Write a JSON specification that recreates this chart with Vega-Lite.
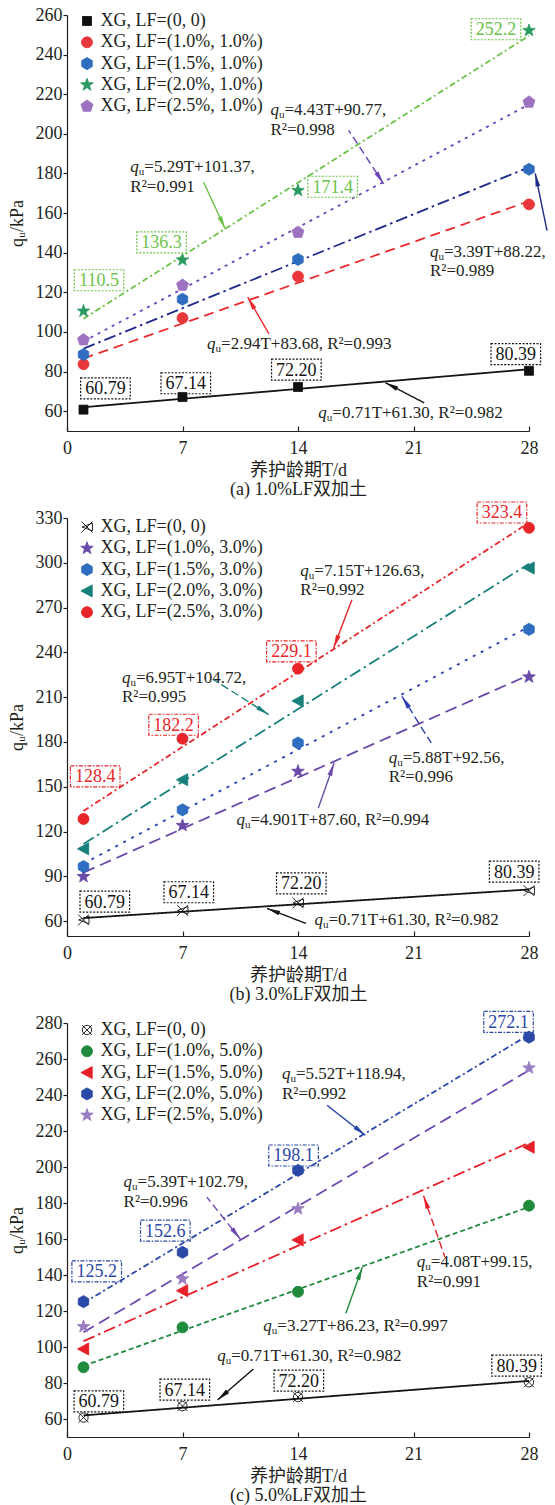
{
  "$schema": "https://vega.github.io/schema/vega-lite/v6.json",
  "background": "white",
  "padding": {"left": 8, "top": 6, "right": 2, "bottom": 2},
  "bounds": "flush",
  "spacing": 87,
  "config": {
    "view": {"stroke": null},
    "font": "Liberation Serif",
    "axis": {
      "grid": false, "domainColor": "#231f20", "domainWidth": 1.2, "tickColor": "#231f20", "tickWidth": 1.2,
      "labelColor": "#231f20", "labelFont": "Liberation Serif", "labelFontSize": 18, "labelFlush": false, "labelOverlap": false,
      "titleColor": "#231f20", "titleFont": "Liberation Serif, Noto Sans CJK SC", "titleFontSize": 18, "titleFontWeight": "normal"
    },
    "axisY": {"tickSize": 4, "labelPadding": 1, "titlePadding": 9},
    "axisX": {"tickSize": -5, "labelPadding": 13, "titlePadding": 4, "titleLineHeight": 19},
    "legend": {
      "labelFont": "Liberation Serif", "labelFontSize": 18, "labelColor": "#231f20", "labelLimit": 300,
      "symbolSize": 120, "rowPadding": 3.3, "labelOffset": 4.5, "padding": 0, "symbolStrokeWidth": 0.9
    },
    "text": {"font": "Liberation Serif", "fontSize": 17, "color": "#231f20"}
  },
  "datasets": {
    "aPts": [
      {"s": "XG, LF=(0, 0)", "T": 1, "q": 60.79}, {"s": "XG, LF=(0, 0)", "T": 7, "q": 67.14}, {"s": "XG, LF=(0, 0)", "T": 14, "q": 72.2}, {"s": "XG, LF=(0, 0)", "T": 28, "q": 80.39},
      {"s": "XG, LF=(1.0%, 1.0%)", "T": 1, "q": 83.7}, {"s": "XG, LF=(1.0%, 1.0%)", "T": 7, "q": 107.0}, {"s": "XG, LF=(1.0%, 1.0%)", "T": 14, "q": 128.0}, {"s": "XG, LF=(1.0%, 1.0%)", "T": 28, "q": 164.4},
      {"s": "XG, LF=(1.5%, 1.0%)", "T": 1, "q": 88.6}, {"s": "XG, LF=(1.5%, 1.0%)", "T": 7, "q": 116.5}, {"s": "XG, LF=(1.5%, 1.0%)", "T": 14, "q": 136.6}, {"s": "XG, LF=(1.5%, 1.0%)", "T": 28, "q": 182.1},
      {"s": "XG, LF=(2.0%, 1.0%)", "T": 1, "q": 110.5}, {"s": "XG, LF=(2.0%, 1.0%)", "T": 7, "q": 136.3}, {"s": "XG, LF=(2.0%, 1.0%)", "T": 14, "q": 171.4}, {"s": "XG, LF=(2.0%, 1.0%)", "T": 28, "q": 252.2},
      {"s": "XG, LF=(2.5%, 1.0%)", "T": 1, "q": 96.0}, {"s": "XG, LF=(2.5%, 1.0%)", "T": 7, "q": 123.6}, {"s": "XG, LF=(2.5%, 1.0%)", "T": 14, "q": 150.3}, {"s": "XG, LF=(2.5%, 1.0%)", "T": 28, "q": 216.0}
    ],
    "aFit": [
      {"s": "XG, LF=(0, 0)", "T": 1, "q": 62.01}, {"s": "XG, LF=(0, 0)", "T": 28, "q": 81.18},
      {"s": "XG, LF=(1.0%, 1.0%)", "T": 1, "q": 86.62}, {"s": "XG, LF=(1.0%, 1.0%)", "T": 28, "q": 166.0},
      {"s": "XG, LF=(1.5%, 1.0%)", "T": 1, "q": 91.61}, {"s": "XG, LF=(1.5%, 1.0%)", "T": 28, "q": 183.14},
      {"s": "XG, LF=(2.0%, 1.0%)", "T": 1, "q": 106.66}, {"s": "XG, LF=(2.0%, 1.0%)", "T": 28, "q": 249.49},
      {"s": "XG, LF=(2.5%, 1.0%)", "T": 1, "q": 95.2}, {"s": "XG, LF=(2.5%, 1.0%)", "T": 28, "q": 214.81}
    ],
    "aBox": [
      {"s": "XG, LF=(0, 0)", "T": 2.33, "q": 71.5, "label": "60.79"},
      {"s": "XG, LF=(0, 0)", "T": 7.2, "q": 74.1, "label": "67.14"},
      {"s": "XG, LF=(0, 0)", "T": 13.9, "q": 81.0, "label": "72.20"},
      {"s": "XG, LF=(0, 0)", "T": 27.2, "q": 88.8, "label": "80.39"},
      {"s": "XG, LF=(2.0%, 1.0%)", "T": 1.94, "q": 126.1, "label": "110.5"},
      {"s": "XG, LF=(2.0%, 1.0%)", "T": 5.73, "q": 145.2, "label": "136.3"},
      {"s": "XG, LF=(2.0%, 1.0%)", "T": 16.1, "q": 173.3, "label": "171.4"},
      {"s": "XG, LF=(2.0%, 1.0%)", "T": 26.0, "q": 252.8, "label": "252.2"}
    ],
    "aEq1": [
      {"T": 3.84, "q": 183.2, "text": "=5.29T+101.37,"},
      {"T": 12.33, "q": 212.0, "text": "=4.43T+90.77,"},
      {"T": 22.0, "q": 140.5, "text": "=3.39T+88.22,"},
      {"T": 8.49, "q": 93.9, "text": "=2.94T+83.68, R²=0.993"},
      {"T": 15.23, "q": 59.2, "text": "=0.71T+61.30, R²=0.982"}
    ],
    "aEq2": [
      {"T": 3.84, "q": 173.2, "text": "R²=0.991"},
      {"T": 12.33, "q": 202.0, "text": "R²=0.998"},
      {"T": 22.0, "q": 130.6, "text": "R²=0.989"}
    ],
    "aArr": [
      {"s": "XG, LF=(2.0%, 1.0%)", "T0": 8.28, "q0": 175.6, "T": 9.59, "q": 152.0},
      {"s": "XG, LF=(2.5%, 1.0%)", "T0": 17.07, "q0": 201.8, "T": 19.19, "q": 174.8},
      {"s": "XG, LF=(1.5%, 1.0%)", "T0": 29.09, "q0": 151.2, "T": 28.38, "q": 180.0},
      {"s": "XG, LF=(1.0%, 1.0%)", "T0": 12.24, "q0": 99.0, "T": 10.95, "q": 117.6},
      {"s": "XG, LF=(0, 0)", "T0": 21.65, "q0": 64.2, "T": 19.3, "q": 74.4}
    ],
    "bPts": [
      {"s": "XG, LF=(0, 0)", "T": 1, "q": 60.79}, {"s": "XG, LF=(0, 0)", "T": 7, "q": 67.14}, {"s": "XG, LF=(0, 0)", "T": 14, "q": 72.2}, {"s": "XG, LF=(0, 0)", "T": 28, "q": 80.39},
      {"s": "XG, LF=(1.0%, 3.0%)", "T": 1, "q": 89.8}, {"s": "XG, LF=(1.0%, 3.0%)", "T": 7, "q": 124.0}, {"s": "XG, LF=(1.0%, 3.0%)", "T": 14, "q": 160.3}, {"s": "XG, LF=(1.0%, 3.0%)", "T": 28, "q": 223.5},
      {"s": "XG, LF=(1.5%, 3.0%)", "T": 1, "q": 96.5}, {"s": "XG, LF=(1.5%, 3.0%)", "T": 7, "q": 134.5}, {"s": "XG, LF=(1.5%, 3.0%)", "T": 14, "q": 179.3}, {"s": "XG, LF=(1.5%, 3.0%)", "T": 28, "q": 255.4},
      {"s": "XG, LF=(2.0%, 3.0%)", "T": 1, "q": 108.4}, {"s": "XG, LF=(2.0%, 3.0%)", "T": 7, "q": 154.7}, {"s": "XG, LF=(2.0%, 3.0%)", "T": 14, "q": 207.5}, {"s": "XG, LF=(2.0%, 3.0%)", "T": 28, "q": 296.5},
      {"s": "XG, LF=(2.5%, 3.0%)", "T": 1, "q": 128.4}, {"s": "XG, LF=(2.5%, 3.0%)", "T": 7, "q": 182.2}, {"s": "XG, LF=(2.5%, 3.0%)", "T": 14, "q": 229.1}, {"s": "XG, LF=(2.5%, 3.0%)", "T": 28, "q": 323.4}
    ],
    "bFit": [
      {"s": "XG, LF=(0, 0)", "T": 1, "q": 62.01}, {"s": "XG, LF=(0, 0)", "T": 28, "q": 81.18},
      {"s": "XG, LF=(1.0%, 3.0%)", "T": 1, "q": 92.5}, {"s": "XG, LF=(1.0%, 3.0%)", "T": 28, "q": 224.83},
      {"s": "XG, LF=(1.5%, 3.0%)", "T": 1, "q": 98.44}, {"s": "XG, LF=(1.5%, 3.0%)", "T": 28, "q": 257.2},
      {"s": "XG, LF=(2.0%, 3.0%)", "T": 1, "q": 111.67}, {"s": "XG, LF=(2.0%, 3.0%)", "T": 28, "q": 299.32},
      {"s": "XG, LF=(2.5%, 3.0%)", "T": 1, "q": 133.78}, {"s": "XG, LF=(2.5%, 3.0%)", "T": 28, "q": 326.83}
    ],
    "bBox": [
      {"s": "XG, LF=(0, 0)", "T": 2.29, "q": 73.0, "label": "60.79"},
      {"s": "XG, LF=(0, 0)", "T": 7.38, "q": 79.3, "label": "67.14"},
      {"s": "XG, LF=(0, 0)", "T": 14.2, "q": 85.3, "label": "72.20"},
      {"s": "XG, LF=(0, 0)", "T": 27.1, "q": 93.1, "label": "80.39"},
      {"s": "XG, LF=(2.5%, 3.0%)", "T": 1.71, "q": 156.9, "label": "128.4"},
      {"s": "XG, LF=(2.5%, 3.0%)", "T": 6.46, "q": 191.5, "label": "182.2"},
      {"s": "XG, LF=(2.5%, 3.0%)", "T": 13.6, "q": 240.7, "label": "229.1"},
      {"s": "XG, LF=(2.5%, 3.0%)", "T": 26.36, "q": 333.7, "label": "323.4"}
    ],
    "bEq1": [
      {"T": 14.14, "q": 294.3, "text": "=7.15T+126.63,"},
      {"T": 3.33, "q": 222.5, "text": "=6.95T+104.72,"},
      {"T": 19.5, "q": 169.5, "text": "=5.88T+92.56,"},
      {"T": 10.27, "q": 127.4, "text": "=4.901T+87.60, R²=0.994"},
      {"T": 15.0, "q": 60.7, "text": "=0.71T+61.30, R²=0.982"}
    ],
    "bEq2": [
      {"T": 14.14, "q": 281.6, "text": "R²=0.992"},
      {"T": 3.33, "q": 209.8, "text": "R²=0.995"},
      {"T": 19.5, "q": 156.8, "text": "R²=0.996"}
    ],
    "bArr": [
      {"s": "XG, LF=(2.5%, 3.0%)", "T0": 17.27, "q0": 275.3, "T": 16.16, "q": 243.0},
      {"s": "XG, LF=(2.0%, 3.0%)", "T0": 8.88, "q0": 221.8, "T": 12.22, "q": 198.3},
      {"s": "XG, LF=(1.5%, 3.0%)", "T0": 22.07, "q0": 179.3, "T": 20.3, "q": 210.6},
      {"s": "XG, LF=(1.0%, 3.0%)", "T0": 15.23, "q0": 135.7, "T": 16.19, "q": 165.9},
      {"s": "XG, LF=(0, 0)", "T0": 14.48, "q0": 58.4, "T": 12.13, "q": 68.5}
    ],
    "cPts": [
      {"s": "XG, LF=(0, 0)", "T": 1, "q": 60.79}, {"s": "XG, LF=(0, 0)", "T": 7, "q": 67.14}, {"s": "XG, LF=(0, 0)", "T": 14, "q": 72.2}, {"s": "XG, LF=(0, 0)", "T": 28, "q": 80.39},
      {"s": "XG, LF=(1.0%, 5.0%)", "T": 1, "q": 88.7}, {"s": "XG, LF=(1.0%, 5.0%)", "T": 7, "q": 110.9}, {"s": "XG, LF=(1.0%, 5.0%)", "T": 14, "q": 130.7}, {"s": "XG, LF=(1.0%, 5.0%)", "T": 28, "q": 178.5},
      {"s": "XG, LF=(1.5%, 5.0%)", "T": 1, "q": 98.9}, {"s": "XG, LF=(1.5%, 5.0%)", "T": 7, "q": 131.3}, {"s": "XG, LF=(1.5%, 5.0%)", "T": 14, "q": 159.5}, {"s": "XG, LF=(1.5%, 5.0%)", "T": 28, "q": 211.0},
      {"s": "XG, LF=(2.0%, 5.0%)", "T": 1, "q": 125.2}, {"s": "XG, LF=(2.0%, 5.0%)", "T": 7, "q": 152.6}, {"s": "XG, LF=(2.0%, 5.0%)", "T": 14, "q": 198.1}, {"s": "XG, LF=(2.0%, 5.0%)", "T": 28, "q": 272.1},
      {"s": "XG, LF=(2.5%, 5.0%)", "T": 1, "q": 111.3}, {"s": "XG, LF=(2.5%, 5.0%)", "T": 7, "q": 137.8}, {"s": "XG, LF=(2.5%, 5.0%)", "T": 14, "q": 176.8}, {"s": "XG, LF=(2.5%, 5.0%)", "T": 28, "q": 255.0}
    ],
    "cFit": [
      {"s": "XG, LF=(0, 0)", "T": 1, "q": 62.01}, {"s": "XG, LF=(0, 0)", "T": 28, "q": 81.18},
      {"s": "XG, LF=(1.0%, 5.0%)", "T": 1, "q": 89.5}, {"s": "XG, LF=(1.0%, 5.0%)", "T": 28, "q": 177.79},
      {"s": "XG, LF=(1.5%, 5.0%)", "T": 1, "q": 103.23}, {"s": "XG, LF=(1.5%, 5.0%)", "T": 28, "q": 213.39},
      {"s": "XG, LF=(2.0%, 5.0%)", "T": 1, "q": 124.46}, {"s": "XG, LF=(2.0%, 5.0%)", "T": 28, "q": 273.5},
      {"s": "XG, LF=(2.5%, 5.0%)", "T": 1, "q": 108.18}, {"s": "XG, LF=(2.5%, 5.0%)", "T": 28, "q": 253.71}
    ],
    "cBox": [
      {"s": "XG, LF=(0, 0)", "T": 1.93, "q": 69.8, "label": "60.79"},
      {"s": "XG, LF=(0, 0)", "T": 7.14, "q": 76.3, "label": "67.14"},
      {"s": "XG, LF=(0, 0)", "T": 14.05, "q": 81.3, "label": "72.20"},
      {"s": "XG, LF=(0, 0)", "T": 27.25, "q": 89.6, "label": "80.39"},
      {"s": "XG, LF=(2.0%, 5.0%)", "T": 1.8, "q": 142.0, "label": "125.2"},
      {"s": "XG, LF=(2.0%, 5.0%)", "T": 5.96, "q": 164.6, "label": "152.6"},
      {"s": "XG, LF=(2.0%, 5.0%)", "T": 13.73, "q": 206.4, "label": "198.1"},
      {"s": "XG, LF=(2.0%, 5.0%)", "T": 26.76, "q": 280.6, "label": "272.1"}
    ],
    "cEq1": [
      {"T": 13.03, "q": 251.8, "text": "=5.52T+118.94,"},
      {"T": 3.43, "q": 191.5, "text": "=5.39T+102.79,"},
      {"T": 21.2, "q": 147.0, "text": "=4.08T+99.15,"},
      {"T": 11.9, "q": 111.9, "text": "=3.27T+86.23, R²=0.997"},
      {"T": 9.1, "q": 95.2, "text": "=0.71T+61.30, R²=0.982"}
    ],
    "cEq2": [
      {"T": 13.03, "q": 240.7, "text": "R²=0.992"},
      {"T": 3.43, "q": 180.4, "text": "R²=0.996"},
      {"T": 21.2, "q": 135.9, "text": "R²=0.991"}
    ],
    "cArr": [
      {"s": "XG, LF=(2.0%, 5.0%)", "T0": 15.76, "q0": 234.3, "T": 18.08, "q": 217.6},
      {"s": "XG, LF=(2.5%, 5.0%)", "T0": 8.48, "q0": 183.2, "T": 10.5, "q": 160.0},
      {"s": "XG, LF=(1.5%, 5.0%)", "T0": 22.9, "q0": 150.0, "T": 21.61, "q": 184.0},
      {"s": "XG, LF=(1.0%, 5.0%)", "T0": 16.9, "q0": 118.7, "T": 17.9, "q": 144.3},
      {"s": "XG, LF=(0, 0)", "T0": 11.3, "q0": 87.8, "T": 9.13, "q": 70.6}
    ]
  },
  "vconcat": [
    {
      "width": 462,
      "height": 416,
      "resolve": {"scale": {"strokeDash": "independent"}},
      "encoding": {
        "x": {"field": "T", "type": "quantitative", "scale": {"domain": [0, 28], "nice": false, "zero": false}, "axis": {"values": [0, 7, 14, 21, 28], "title": ["养护龄期T/d", "(a) 1.0%LF双加土"]}},
        "y": {"field": "q", "type": "quantitative", "scale": {"domain": [50, 260], "nice": false, "zero": false}, "axis": {"values": [60, 80, 100, 120, 140, 160, 180, 200, 220, 240, 260], "title": "qᵤ/kPa"}}
      },
      "layer": [
        {
          "data": {"name": "aFit"},
          "mark": {"type": "line", "strokeWidth": 1.8},
          "encoding": {
            "color": {"field": "s", "type": "nominal", "legend": null, "scale": {"range": ["#151515", "#ec2a2e", "#1f2a8a", "#6cc24a", "#6a45b8"]}},
            "strokeDash": {"field": "s", "type": "nominal", "legend": null, "scale": {"range": [[1, 0], [10, 6], [12, 4, 2.5, 4], [6, 3, 2, 3], [3, 5]]}}
          }
        },
        {
          "data": {"name": "aPts"},
          "mark": {"type": "point", "filled": true, "size": 120, "strokeWidth": 0.8, "opacity": 1},
          "encoding": {
            "fill": {"field": "s", "type": "nominal", "legend": {"title": null, "orient": "none", "legendX": 11, "legendY": -3}, "scale": {"domain": ["XG, LF=(0, 0)", "XG, LF=(1.0%, 1.0%)", "XG, LF=(1.5%, 1.0%)", "XG, LF=(2.0%, 1.0%)", "XG, LF=(2.5%, 1.0%)"], "range": ["#111111", "#e8383b", "#2e6dbf", "#2a9a60", "#9d72c0"]}},
            "stroke": {"field": "s", "type": "nominal", "legend": {"title": null, "orient": "none", "legendX": 11, "legendY": -3}, "scale": {"domain": ["XG, LF=(0, 0)", "XG, LF=(1.0%, 1.0%)", "XG, LF=(1.5%, 1.0%)", "XG, LF=(2.0%, 1.0%)", "XG, LF=(2.5%, 1.0%)"], "range": ["#111111", "#e8383b", "#2e6dbf", "#2a9a60", "#9d72c0"]}},
            "shape": {"field": "s", "type": "nominal", "legend": {"title": null, "orient": "none", "legendX": 11, "legendY": -3}, "scale": {"domain": ["XG, LF=(0, 0)", "XG, LF=(1.0%, 1.0%)", "XG, LF=(1.5%, 1.0%)", "XG, LF=(2.0%, 1.0%)", "XG, LF=(2.5%, 1.0%)"], "range": ["M-0.82,-0.82H0.82V0.82H-0.82Z", "M1,0A1,1,0,1,1,-1,0A1,1,0,1,1,1,0Z", "M0,-1.1L0.953,-0.55L0.953,0.55L0,1.1L-0.953,0.55L-0.953,-0.55Z", "M0,-1.2L0.282,-0.388L1.141,-0.371L0.456,0.148L0.705,0.971L0,0.48L-0.705,0.971L-0.456,0.148L-1.141,-0.371L-0.282,-0.388Z", "M0,-1.15L1.094,-0.355L0.676,0.93L-0.676,0.93L-1.094,-0.355Z"]}}
          }
        },
        {
          "data": {"name": "aBox"},
          "mark": {"type": "point", "shape": "M-2.48,-1.05H2.48V1.05H-2.48Z", "size": 400, "filled": false, "strokeWidth": 1.2, "opacity": 1},
          "encoding": {
            "color": {"field": "s", "type": "nominal", "legend": null, "scale": {"range": ["#151515", "#ec2a2e", "#1f2a8a", "#6cc24a", "#6a45b8"]}},
            "strokeDash": {"field": "s", "type": "nominal", "legend": null, "scale": {"range": [[2, 1.5], [2, 1.5]]}}
          }
        },
        {
          "data": {"name": "aBox"},
          "mark": {"type": "text", "fontSize": 18, "baseline": "middle", "dy": 1},
          "encoding": {
            "text": {"field": "label"},
            "color": {"field": "s", "type": "nominal", "legend": null, "scale": {"range": ["#151515", "#ec2a2e", "#1f2a8a", "#6cc24a", "#6a45b8"]}}
          }
        },
        {"data": {"name": "aEq1"}, "mark": {"type": "text", "text": "q", "fontStyle": "italic", "align": "left", "baseline": "middle"}},
        {"data": {"name": "aEq1"}, "mark": {"type": "text", "text": "u", "fontSize": 11, "align": "left", "baseline": "middle", "dx": 8.5, "dy": 5}},
        {"data": {"name": "aEq1"}, "mark": {"type": "text", "align": "left", "baseline": "middle", "dx": 14}, "encoding": {"text": {"field": "text"}}},
        {"data": {"name": "aEq2"}, "mark": {"type": "text", "align": "left", "baseline": "middle"}, "encoding": {"text": {"field": "text"}}},
        {
          "data": {"name": "aArr"},
          "mark": {"type": "rule", "strokeWidth": 1.4},
          "encoding": {
            "x2": {"field": "T0"},
            "y2": {"field": "q0"},
            "color": {"field": "s", "type": "nominal", "legend": null, "scale": {"range": ["#151515", "#ec2a2e", "#1f2a8a", "#6cc24a", "#6a45b8"]}},
            "strokeDash": {"field": "s", "type": "nominal", "legend": null, "scale": {"range": [[1, 0], [1, 0], [1, 0], [1, 0], [8, 4]]}}
          }
        },
        {
          "data": {"name": "aArr"},
          "transform": [{"calculate": "atan2((datum.T - datum.T0) * 16.5, (datum.q - datum.q0) * 1.981) * 180 / PI", "as": "ang"}],
          "mark": {"type": "point", "shape": "M0,0L-0.42,2.3L0.42,2.3Z", "size": 130, "filled": true, "strokeWidth": 0, "opacity": 1},
          "encoding": {
            "angle": {"field": "ang", "type": "quantitative", "scale": null},
            "color": {"field": "s", "type": "nominal", "legend": null, "scale": {"range": ["#151515", "#ec2a2e", "#1f2a8a", "#6cc24a", "#6a45b8"]}}
          }
        }
      ]
    },
    {
      "width": 462,
      "height": 418,
      "resolve": {"scale": {"strokeDash": "independent"}},
      "encoding": {
        "x": {"field": "T", "type": "quantitative", "scale": {"domain": [0, 28], "nice": false, "zero": false}, "axis": {"values": [0, 7, 14, 21, 28], "title": ["养护龄期T/d", "(b) 3.0%LF双加土"]}},
        "y": {"field": "q", "type": "quantitative", "scale": {"domain": [50, 330], "nice": false, "zero": false}, "axis": {"values": [60, 90, 120, 150, 180, 210, 240, 270, 300, 330], "title": "qᵤ/kPa"}}
      },
      "layer": [
        {
          "data": {"name": "bFit"},
          "mark": {"type": "line", "strokeWidth": 1.8},
          "encoding": {
            "color": {"field": "s", "type": "nominal", "legend": null, "scale": {"range": ["#151515", "#6a4aa8", "#2d3fb0", "#17807a", "#e8262a"]}},
            "strokeDash": {"field": "s", "type": "nominal", "legend": null, "scale": {"range": [[1, 0], [12, 6], [3, 6], [12, 4, 2.5, 4], [6, 3, 2, 3]]}}
          }
        },
        {
          "data": {"name": "bPts"},
          "mark": {"type": "point", "filled": true, "size": 120, "strokeWidth": 0.9, "opacity": 1},
          "encoding": {
            "fill": {"field": "s", "type": "nominal", "legend": {"title": null, "orient": "none", "legendX": 11, "legendY": 0}, "scale": {"domain": ["XG, LF=(0, 0)", "XG, LF=(1.0%, 3.0%)", "XG, LF=(1.5%, 3.0%)", "XG, LF=(2.0%, 3.0%)", "XG, LF=(2.5%, 3.0%)"], "range": ["transparent", "#6a4aa8", "#2e6dbf", "#17807a", "#e8262a"]}},
            "stroke": {"field": "s", "type": "nominal", "legend": {"title": null, "orient": "none", "legendX": 11, "legendY": 0}, "scale": {"domain": ["XG, LF=(0, 0)", "XG, LF=(1.0%, 3.0%)", "XG, LF=(1.5%, 3.0%)", "XG, LF=(2.0%, 3.0%)", "XG, LF=(2.5%, 3.0%)"], "range": ["#111111", "#6a4aa8", "#2e6dbf", "#17807a", "#e8262a"]}},
            "shape": {"field": "s", "type": "nominal", "legend": {"title": null, "orient": "none", "legendX": 11, "legendY": 0}, "scale": {"domain": ["XG, LF=(0, 0)", "XG, LF=(1.0%, 3.0%)", "XG, LF=(1.5%, 3.0%)", "XG, LF=(2.0%, 3.0%)", "XG, LF=(2.5%, 3.0%)"], "range": ["M-1,-1L1,1M1,-1L-1,1M1,-0.7L-0.9,0L1,0.7Z", "M0,-1.2L0.282,-0.388L1.141,-0.371L0.456,0.148L0.705,0.971L0,0.48L-0.705,0.971L-0.456,0.148L-1.141,-0.371L-0.282,-0.388Z", "M0,-1.1L0.953,-0.55L0.953,0.55L0,1.1L-0.953,0.55L-0.953,-0.55Z", "M-1.1,0L0.95,-1.1L0.95,1.1Z", "M1,0A1,1,0,1,1,-1,0A1,1,0,1,1,1,0Z"]}}
          }
        },
        {
          "data": {"name": "bBox"},
          "mark": {"type": "point", "shape": "M-2.48,-1.05H2.48V1.05H-2.48Z", "size": 400, "filled": false, "strokeWidth": 1.2, "opacity": 1},
          "encoding": {
            "color": {"field": "s", "type": "nominal", "legend": null, "scale": {"range": ["#151515", "#6a4aa8", "#2d3fb0", "#17807a", "#e8262a"]}},
            "strokeDash": {"field": "s", "type": "nominal", "legend": null, "scale": {"range": [[2, 1.5], [4, 1.5, 1.5, 1.5]]}}
          }
        },
        {
          "data": {"name": "bBox"},
          "mark": {"type": "text", "fontSize": 18, "baseline": "middle", "dy": 1},
          "encoding": {
            "text": {"field": "label"},
            "color": {"field": "s", "type": "nominal", "legend": null, "scale": {"range": ["#151515", "#6a4aa8", "#2d3fb0", "#17807a", "#e8262a"]}}
          }
        },
        {"data": {"name": "bEq1"}, "mark": {"type": "text", "text": "q", "fontStyle": "italic", "align": "left", "baseline": "middle"}},
        {"data": {"name": "bEq1"}, "mark": {"type": "text", "text": "u", "fontSize": 11, "align": "left", "baseline": "middle", "dx": 8.5, "dy": 5}},
        {"data": {"name": "bEq1"}, "mark": {"type": "text", "align": "left", "baseline": "middle", "dx": 14}, "encoding": {"text": {"field": "text"}}},
        {"data": {"name": "bEq2"}, "mark": {"type": "text", "align": "left", "baseline": "middle"}, "encoding": {"text": {"field": "text"}}},
        {
          "data": {"name": "bArr"},
          "mark": {"type": "rule", "strokeWidth": 1.4},
          "encoding": {
            "x2": {"field": "T0"},
            "y2": {"field": "q0"},
            "color": {"field": "s", "type": "nominal", "legend": null, "scale": {"range": ["#151515", "#6a4aa8", "#2d3fb0", "#17807a", "#e8262a"]}},
            "strokeDash": {"field": "s", "type": "nominal", "legend": null, "scale": {"range": [[1, 0], [1, 0], [8, 4], [8, 4], [1, 0]]}}
          }
        },
        {
          "data": {"name": "bArr"},
          "transform": [{"calculate": "atan2((datum.T - datum.T0) * 16.5, (datum.q - datum.q0) * 1.493) * 180 / PI", "as": "ang"}],
          "mark": {"type": "point", "shape": "M0,0L-0.42,2.3L0.42,2.3Z", "size": 130, "filled": true, "strokeWidth": 0, "opacity": 1},
          "encoding": {
            "angle": {"field": "ang", "type": "quantitative", "scale": null},
            "color": {"field": "s", "type": "nominal", "legend": null, "scale": {"range": ["#151515", "#6a4aa8", "#2d3fb0", "#17807a", "#e8262a"]}}
          }
        }
      ]
    },
    {
      "width": 462,
      "height": 414,
      "resolve": {"scale": {"strokeDash": "independent"}},
      "encoding": {
        "x": {"field": "T", "type": "quantitative", "scale": {"domain": [0, 28], "nice": false, "zero": false}, "axis": {"values": [0, 7, 14, 21, 28], "title": ["养护龄期T/d", "(c) 5.0%LF双加土"]}},
        "y": {"field": "q", "type": "quantitative", "scale": {"domain": [50, 280], "nice": false, "zero": false}, "axis": {"values": [60, 80, 100, 120, 140, 160, 180, 200, 220, 240, 260, 280], "title": "qᵤ/kPa"}}
      },
      "layer": [
        {
          "data": {"name": "cFit"},
          "mark": {"type": "line", "strokeWidth": 1.8},
          "encoding": {
            "color": {"field": "s", "type": "nominal", "legend": null, "scale": {"range": ["#151515", "#1f8a3c", "#e8202a", "#2a48a6", "#6a48b0"]}},
            "strokeDash": {"field": "s", "type": "nominal", "legend": null, "scale": {"range": [[1, 0], [5, 3], [12, 4, 2.5, 4], [6, 3, 2, 3], [12, 6]]}}
          }
        },
        {
          "data": {"name": "cPts"},
          "mark": {"type": "point", "filled": true, "size": 120, "strokeWidth": 0.9, "opacity": 1},
          "encoding": {
            "fill": {"field": "s", "type": "nominal", "legend": {"title": null, "orient": "none", "legendX": 11, "legendY": -2}, "scale": {"domain": ["XG, LF=(0, 0)", "XG, LF=(1.0%, 5.0%)", "XG, LF=(1.5%, 5.0%)", "XG, LF=(2.0%, 5.0%)", "XG, LF=(2.5%, 5.0%)"], "range": ["transparent", "#1f8a3c", "#e8202a", "#2a48a6", "#9a7cc0"]}},
            "stroke": {"field": "s", "type": "nominal", "legend": {"title": null, "orient": "none", "legendX": 11, "legendY": -2}, "scale": {"domain": ["XG, LF=(0, 0)", "XG, LF=(1.0%, 5.0%)", "XG, LF=(1.5%, 5.0%)", "XG, LF=(2.0%, 5.0%)", "XG, LF=(2.5%, 5.0%)"], "range": ["#111111", "#1f8a3c", "#e8202a", "#2a48a6", "#9a7cc0"]}},
            "shape": {"field": "s", "type": "nominal", "legend": {"title": null, "orient": "none", "legendX": 11, "legendY": -2}, "scale": {"domain": ["XG, LF=(0, 0)", "XG, LF=(1.0%, 5.0%)", "XG, LF=(1.5%, 5.0%)", "XG, LF=(2.0%, 5.0%)", "XG, LF=(2.5%, 5.0%)"], "range": ["M0.85,0A0.85,0.85,0,1,1,-0.85,0A0.85,0.85,0,1,1,0.85,0M-0.9,-0.9L0.9,0.9M0.9,-0.9L-0.9,0.9", "M1,0A1,1,0,1,1,-1,0A1,1,0,1,1,1,0Z", "M-1.1,0L0.95,-1.1L0.95,1.1Z", "M0,-1.1L0.953,-0.55L0.953,0.55L0,1.1L-0.953,0.55L-0.953,-0.55Z", "M0,-1.2L0.282,-0.388L1.141,-0.371L0.456,0.148L0.705,0.971L0,0.48L-0.705,0.971L-0.456,0.148L-1.141,-0.371L-0.282,-0.388Z"]}}
          }
        },
        {
          "data": {"name": "cBox"},
          "mark": {"type": "point", "shape": "M-2.48,-1.05H2.48V1.05H-2.48Z", "size": 400, "filled": false, "strokeWidth": 1.2, "opacity": 1},
          "encoding": {
            "color": {"field": "s", "type": "nominal", "legend": null, "scale": {"range": ["#151515", "#1f8a3c", "#e8202a", "#2a48a6", "#6a48b0"]}},
            "strokeDash": {"field": "s", "type": "nominal", "legend": null, "scale": {"range": [[2, 1.5], [4, 1.5, 1.5, 1.5]]}}
          }
        },
        {
          "data": {"name": "cBox"},
          "mark": {"type": "text", "fontSize": 18, "baseline": "middle", "dy": 1},
          "encoding": {
            "text": {"field": "label"},
            "color": {"field": "s", "type": "nominal", "legend": null, "scale": {"range": ["#151515", "#1f8a3c", "#e8202a", "#2a48a6", "#6a48b0"]}}
          }
        },
        {"data": {"name": "cEq1"}, "mark": {"type": "text", "text": "q", "fontStyle": "italic", "align": "left", "baseline": "middle"}},
        {"data": {"name": "cEq1"}, "mark": {"type": "text", "text": "u", "fontSize": 11, "align": "left", "baseline": "middle", "dx": 8.5, "dy": 5}},
        {"data": {"name": "cEq1"}, "mark": {"type": "text", "align": "left", "baseline": "middle", "dx": 14}, "encoding": {"text": {"field": "text"}}},
        {"data": {"name": "cEq2"}, "mark": {"type": "text", "align": "left", "baseline": "middle"}, "encoding": {"text": {"field": "text"}}},
        {
          "data": {"name": "cArr"},
          "mark": {"type": "rule", "strokeWidth": 1.4},
          "encoding": {
            "x2": {"field": "T0"},
            "y2": {"field": "q0"},
            "color": {"field": "s", "type": "nominal", "legend": null, "scale": {"range": ["#151515", "#1f8a3c", "#e8202a", "#2a48a6", "#6a48b0"]}},
            "strokeDash": {"field": "s", "type": "nominal", "legend": null, "scale": {"range": [[1, 0], [1, 0], [8, 4], [1, 0], [8, 4]]}}
          }
        },
        {
          "data": {"name": "cArr"},
          "transform": [{"calculate": "atan2((datum.T - datum.T0) * 16.5, (datum.q - datum.q0) * 1.8) * 180 / PI", "as": "ang"}],
          "mark": {"type": "point", "shape": "M0,0L-0.42,2.3L0.42,2.3Z", "size": 130, "filled": true, "strokeWidth": 0, "opacity": 1},
          "encoding": {
            "angle": {"field": "ang", "type": "quantitative", "scale": null},
            "color": {"field": "s", "type": "nominal", "legend": null, "scale": {"range": ["#151515", "#1f8a3c", "#e8202a", "#2a48a6", "#6a48b0"]}}
          }
        }
      ]
    }
  ],
  "resolve": {
    "scale": {"x": "independent", "y": "independent", "color": "independent", "fill": "independent", "stroke": "independent", "shape": "independent", "strokeDash": "independent"},
    "legend": {"color": "independent", "fill": "independent", "stroke": "independent", "shape": "independent"}
  }
}
